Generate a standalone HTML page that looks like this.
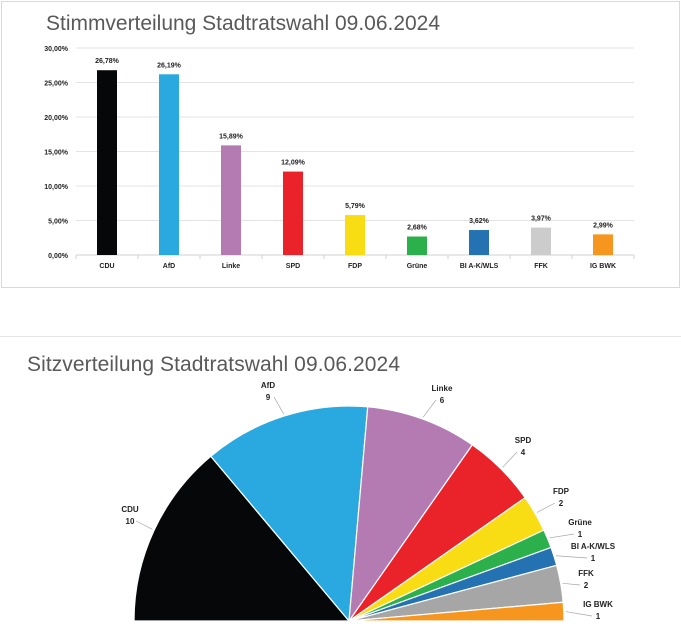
<!DOCTYPE html>
<html><head><meta charset="utf-8"><style>
body{margin:0;background:#fff;width:681px;height:632px;overflow:hidden;font-family:"Liberation Sans",sans-serif}
</style></head><body>
<svg id="s" width="681" height="632" xmlns="http://www.w3.org/2000/svg" font-family="Liberation Sans, sans-serif">
<rect x="1.5" y="1.5" width="678" height="286" fill="#fff" stroke="#d9d9d9"/>
<text x="46" y="30" font-size="21" fill="#595959" textLength="394">Stimmverteilung Stadtratswahl 09.06.2024</text>
<g id="bars"></g>
<line x1="0" y1="336.5" x2="681" y2="336.5" stroke="#e6e6e6"/>
<text x="27" y="371" font-size="21" fill="#595959" textLength="373">Sitzverteilung Stadtratswahl 09.06.2024</text>
<g id="pie"></g>
</svg>
<script>
var NS="http://www.w3.org/2000/svg";
function el(p,t,a,txt){var e=document.createElementNS(NS,t);for(var k in a)e.setAttribute(k,a[k]);if(txt!==undefined)e.textContent=txt;p.appendChild(e);return e;}
var b=document.getElementById("bars");
var y0=255,pp=207/30;
for(var i=0;i<=6;i++){var y=y0-i*5*pp;
 if(i>0)el(b,"line",{x1:76,x2:634,y1:y,y2:y,stroke:"#e3e3e3","stroke-width":1});
 el(b,"text",{x:68,y:y+3,"font-size":7,"font-weight":"bold","text-anchor":"end",fill:"#222"},(i*5)+",00%");}
el(b,"line",{x1:76,x2:634,y1:y0,y2:y0,stroke:"#d0d0d0"});
var d=[["CDU",26.78,"#060709"],["AfD",26.19,"#29a9e0"],["Linke",15.89,"#b47bb3"],["SPD",12.09,"#ea2229"],["FDP",5.79,"#f8dd14"],["Grüne",2.68,"#2bb04b"],["BI A-K/WLS",3.62,"#2472b2"],["FFK",3.97,"#cccccc"],["IG BWK",2.99,"#f7961e"]];
d.forEach(function(r,i){var cx=107+62*i,h=r[1]*pp;
 el(b,"line",{x1:76+62*i,x2:76+62*i,y1:y0,y2:y0+4,stroke:"#d0d0d0"});
 el(b,"rect",{x:cx-10,y:y0-h,width:20,height:h,fill:r[2]});
 el(b,"text",{x:cx,y:y0-h-7,"font-size":7,"font-weight":"bold","text-anchor":"middle",fill:"#222"},r[1].toFixed(2).replace(".",",")+"%");
 el(b,"text",{x:cx,y:268,"font-size":7,"font-weight":"bold","text-anchor":"middle",fill:"#222"},r[0]);});
el(b,"line",{x1:634,x2:634,y1:y0,y2:y0+4,stroke:"#d0d0d0"});
var p=document.getElementById("pie");
var cx=349,cy=621,R=215;
var s=[["CDU",10,"#060709",130,512],["AfD",9,"#29a9e0",268,388],["Linke",6,"#b47bb3",442,391],["SPD",4,"#ea2229",523,443],["FDP",2,"#f8dd14",561,494],["Grüne",1,"#2bb04b",580,525],["BI A-K/WLS",1,"#2472b2",593,549],["FFK",2,"#a6a6a6",586,576],["IG BWK",1,"#f7961e",598,607]];
var a=180;
s.forEach(function(r){var a2=a-r[1]*5;
 var r1=a*Math.PI/180,r2=a2*Math.PI/180;
 var x1=cx+R*Math.cos(r1),y1=cy-R*Math.sin(r1),x2=cx+R*Math.cos(r2),y2=cy-R*Math.sin(r2);
 el(p,"path",{d:"M"+cx+","+cy+"L"+x1+","+y1+"A"+R+","+R+" 0 0 1 "+x2+","+y2+"Z",fill:r[2],stroke:"#fff","stroke-width":1.2});
 var am=(a+a2)/2*Math.PI/180,lx=cx+(R+2)*Math.cos(am),ly=cy-(R+2)*Math.sin(am);
 el(p,"line",{x1:lx,y1:ly,x2:r[3]+(lx>r[3]?6:-6),y2:r[4]+9,stroke:"#a6a6a6","stroke-width":0.7});
 el(p,"text",{x:r[3],y:r[4],"font-size":8,"font-weight":"bold","text-anchor":"middle",fill:"#222"},r[0]);
 el(p,"text",{x:r[3],y:r[4]+12,"font-size":8,"font-weight":"bold","text-anchor":"middle",fill:"#222"},String(r[1]));
 a=a2;});
</script>
</body></html>
